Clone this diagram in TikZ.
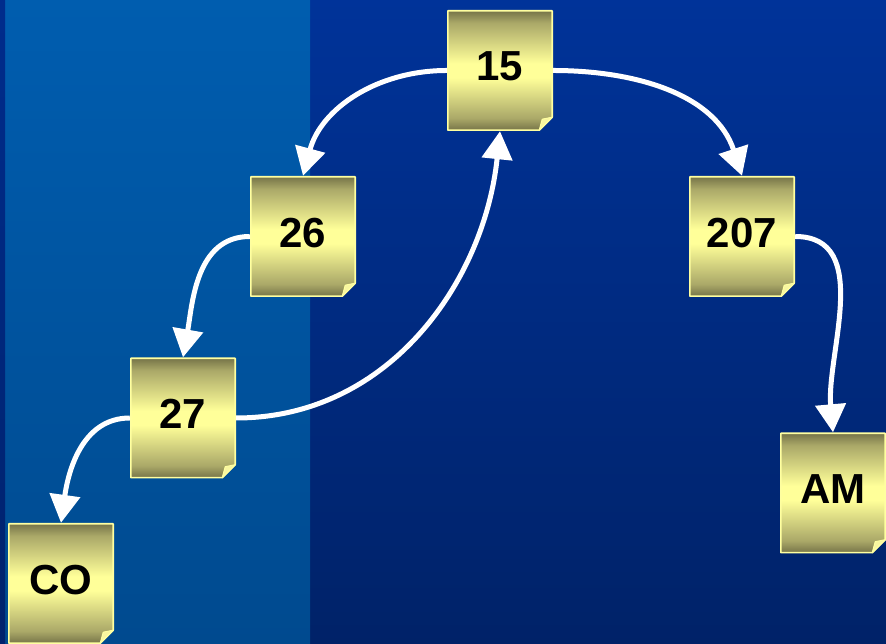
\documentclass[tikz,border=0pt]{standalone}
\usepackage{fontspec}
\setmainfont{Liberation Sans}
\usetikzlibrary{arrows.meta,calc}

% colours
\definecolor{bgtop}{RGB}{0,51,153}
\definecolor{bgbot}{RGB}{0,34,104}
\definecolor{pantop}{RGB}{0,93,175}
\definecolor{panbot}{RGB}{0,74,143}
\definecolor{striptop}{RGB}{0,44,140}
\definecolor{stripbot}{RGB}{0,34,108}
\definecolor{pdark}{RGB}{118,116,72}
\definecolor{pmid}{RGB}{170,168,104}
\definecolor{plight}{RGB}{255,255,153}
\definecolor{pborder}{RGB}{255,255,160}
\definecolor{pfold}{RGB}{248,246,160}

% paper-note shading: dark at top and bottom, bright band in the middle
\pgfdeclareverticalshading{paper}{100bp}{%
  color(0bp)=(pdark); color(25bp)=(pdark); color(30bp)=(pmid);
  color(47bp)=(plight); color(53bp)=(plight);
  color(70bp)=(pmid); color(75bp)=(pdark); color(100bp)=(pdark)}

\tikzset{
  paper/.style={
    minimum width=106pt, minimum height=121pt, inner sep=0pt,
    text depth=8pt, text=black,
    font=\bfseries\fontsize{42}{42}\selectfont,
    path picture={
      \coordinate (sw) at ($(path picture bounding box.south west)+(0.8pt,0.8pt)$);
      \coordinate (ne) at ($(path picture bounding box.north east)+(-0.8pt,-0.8pt)$);
      \coordinate (se) at (ne |- sw);
      \shade[shading=paper, draw=pborder, line width=1.6pt, line join=round]
        (sw) -- (sw |- ne) -- (ne) -- ($(se)+(0,13pt)$) -- ($(se)+(-13pt,0)$) -- cycle;
      \filldraw[fill=pfold, draw=pborder, line width=1pt, line join=round]
        ($(se)+(-13pt,0)$) .. controls ($(se)+(-12pt,6pt)$) .. ($(se)+(-10pt,11pt)$)
        -- ($(se)+(0,13pt)$) -- cycle;
    }
  },
  conn/.style={draw=white, line width=5pt,
    -{Triangle[width=30pt,length=28pt]}}
}

\begin{document}
\begin{tikzpicture}[x=1pt,y=1pt]
  \useasboundingbox (0,0) rectangle (886,644);

  % background panels
  \shade[top color=bgtop, bottom color=bgbot] (0,0) rectangle (886,644);
  \shade[top color=pantop, bottom color=panbot] (5,0) rectangle (310,644);
  \shade[top color=striptop, bottom color=stripbot] (0,0) rectangle (5,644);

  % notes
  \node[paper] (n15)  at (500,573.5) {15};
  \node[paper] (n26)  at (303,407.5) {26};
  \node[paper] (n207) at (742,407.5) {207};
  \node[paper] (n27)  at (183,226)   {27};
  \node[paper] (nAM)  at (833,151)   {AM};
  \node[paper] (nCO)  at (61,60.5)   {CO};

  % links
  \draw[conn] (n15.west)  to[out=180,in=75]  (n26.north);
  \draw[conn] (n15.east)  to[out=0,in=108]   (n207.north);
  \draw[conn] (n26.west)  to[out=180,in=80]  (n27.north);
  \draw[conn] (n27.east)  to[out=0,in=-96]   (n15.south);
  \draw[conn] (n207.east) to[out=0,in=95]    (nAM.north);
  \draw[conn] (n27.west)  to[out=180,in=82]  (nCO.north);
\end{tikzpicture}
\end{document}
